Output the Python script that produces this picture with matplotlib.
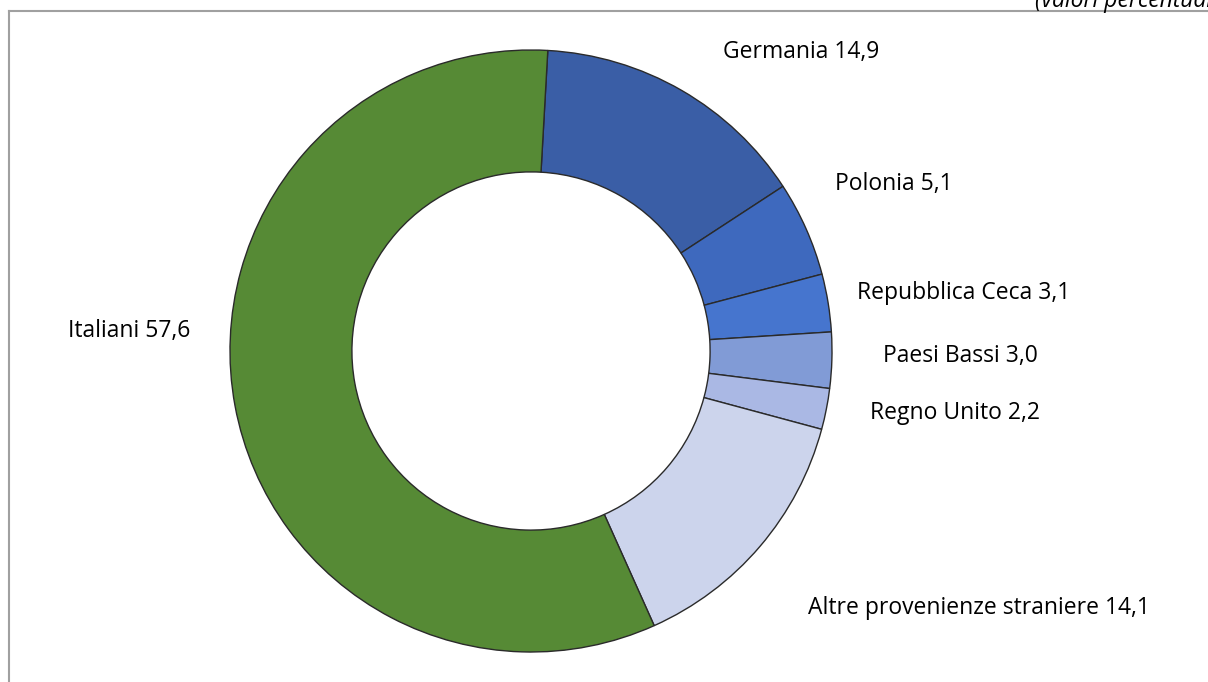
import matplotlib
matplotlib.use('Agg')
import matplotlib.pyplot as plt
import numpy as np

plt.rcParams['font.family'] = ['Open Sans', 'DejaVu Sans']

labels = ['Germania', 'Polonia', 'Repubblica Ceca', 'Paesi Bassi', 'Regno Unito',
          'Altre provenienze straniere', 'Italiani']
values = [14.9, 5.1, 3.1, 3.0, 2.2, 14.1, 57.6]
colors = ['#3A5EA6', '#3E69BE', '#4675CE', '#819BD6', '#AAB8E4', '#CCD4EC', '#568A35']

# label positions in pixels (left x, centre y)
label_pos = [(723, 52), (835, 184), (857, 293), (883, 356), (870, 413), (808, 608), (190, 331)]

W, H = 1208, 682
cx, cy, R = 531, 351, 301

fig = plt.figure(figsize=(W / 100, H / 100), dpi=100)
ax = fig.add_axes([0, 0, 1, 1])

wedges, _ = ax.pie(values, colors=colors, startangle=86.8, counterclock=False,
                   radius=1.0, wedgeprops=dict(width=0.405, edgecolor='#2a2a2a', linewidth=1.0))

ax.set_xlim(-cx / R, (W - cx) / R)
ax.set_ylim((cy - H) / R, cy / R)
ax.set_aspect('equal')
ax.axis('off')

def px(x, y):
    return (x - cx) / R, (cy - y) / R

for i in range(len(labels)):
    txt = labels[i] + ' ' + ('%.1f' % values[i]).replace('.', ',')
    x, y = px(*label_pos[i])
    ha = 'right' if labels[i] == 'Italiani' else 'left'
    ax.text(x, y, txt, ha=ha, va='center', fontsize=16.5, color='black')

# title cut at the top and frame lines
fig.text(1035 / W, 1 - 7 / H, '(valori percentuali)', ha='left', va='baseline',
         fontsize=16.5, style='italic', color='black')
fig.add_artist(plt.Line2D([8.5 / W, 1], [1 - 10.5 / H, 1 - 10.5 / H], color='#a0a0a0', linewidth=1.5))
fig.add_artist(plt.Line2D([8.5 / W, 8.5 / W], [0, 1 - 10.5 / H], color='#a0a0a0', linewidth=1.5))

fig.savefig('out.png', dpi=100)
